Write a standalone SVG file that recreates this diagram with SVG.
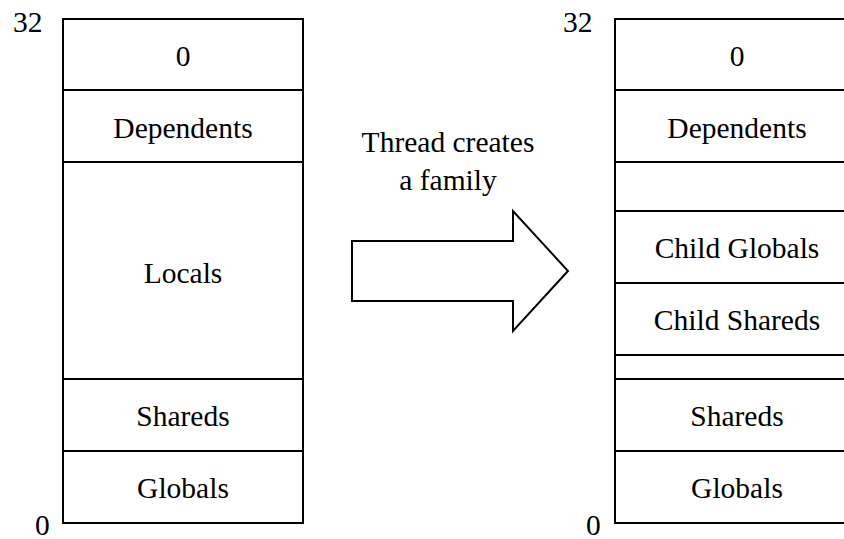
<svg xmlns="http://www.w3.org/2000/svg" width="844" height="539" viewBox="0 0 844 539">
<style>
text{font-family:'Liberation Serif',Tinos,'Times New Roman',Times,'Noto Serif','DejaVu Serif',serif;font-size:29.5px;fill:#000}
.c{text-anchor:middle}
.box{fill:#fff;stroke:#000;stroke-width:2}
.ln{stroke:#000;stroke-width:2;fill:none}
</style>
<rect width="844" height="539" fill="#fff"/>
<g id="left-stack">
<rect class="box" x="63" y="19" width="240" height="504"/>
<line class="ln" x1="63" y1="90" x2="303" y2="90"/>
<line class="ln" x1="63" y1="162" x2="303" y2="162"/>
<line class="ln" x1="63" y1="379" x2="303" y2="379"/>
<line class="ln" x1="63" y1="451" x2="303" y2="451"/>
<text class="c" x="183" y="66">0</text>
<text class="c" x="183" y="138">Dependents</text>
<text class="c" x="183" y="283">Locals</text>
<text class="c" x="183" y="426">Shareds</text>
<text class="c" x="183" y="498">Globals</text>
<text x="13" y="32">32</text>
<text x="35" y="535">0</text>
</g>
<g id="arrow">
<polygon class="box" points="352,241 513,241 513,211 568,271 513,331 513,301 352,301"/>
<text class="c" x="448" y="152">Thread creates</text>
<text class="c" x="448" y="190">a family</text>
</g>
<g id="right-stack">
<rect class="box" x="615" y="19" width="244" height="504"/>
<line class="ln" x1="615" y1="90" x2="859" y2="90"/>
<line class="ln" x1="615" y1="162" x2="859" y2="162"/>
<line class="ln" x1="615" y1="211" x2="859" y2="211"/>
<line class="ln" x1="615" y1="283" x2="859" y2="283"/>
<line class="ln" x1="615" y1="355" x2="859" y2="355"/>
<line class="ln" x1="615" y1="379" x2="859" y2="379"/>
<line class="ln" x1="615" y1="451" x2="859" y2="451"/>
<text class="c" x="737" y="66">0</text>
<text class="c" x="737" y="138">Dependents</text>
<text class="c" x="737" y="258">Child Globals</text>
<text class="c" x="737" y="330">Child Shareds</text>
<text class="c" x="737" y="426">Shareds</text>
<text class="c" x="737" y="498">Globals</text>
<text x="563" y="32">32</text>
<text x="586" y="535">0</text>
</g>
</svg>
